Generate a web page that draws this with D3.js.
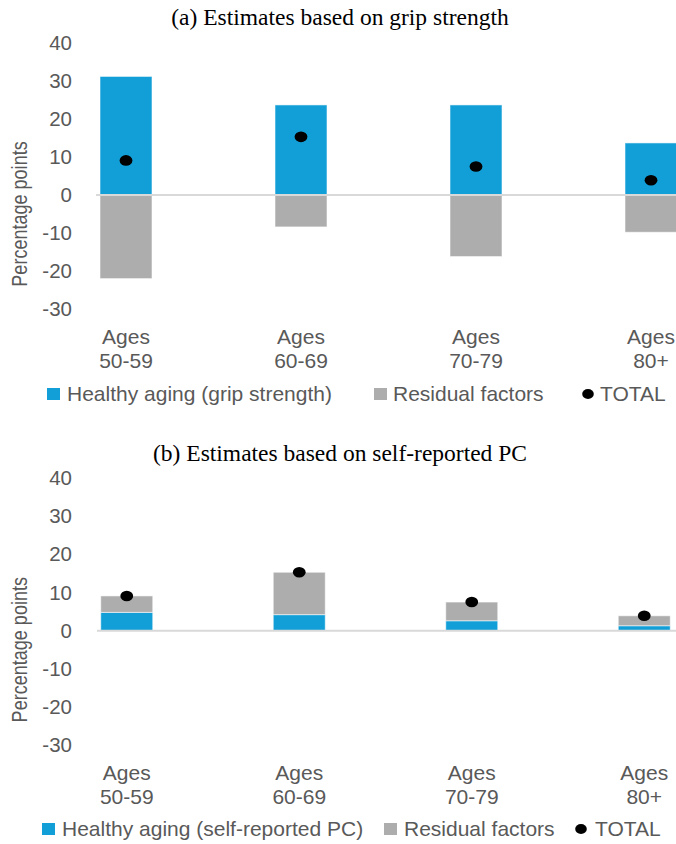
<!DOCTYPE html>
<html>
<head>
<meta charset="utf-8">
<script src="https://cdn.jsdelivr.net/npm/d3@7"></script>
<style>
  html, body { margin: 0; padding: 0; background: #fff; }
  svg { display: block; }
</style>
</head>
<body>
<svg id="chart" width="676" height="844"></svg>
<script>
// Age groups shown on the category axis
const ageGroups = ["Ages\n50-59", "Ages\n60-69", "Ages\n70-79", "Ages\n80+"];

// Panel (a): decomposition using grip strength (percentage points)
const gripHealthy  = [31.2, 23.7, 23.7, 13.7];
const gripResidual = [-22.0, -8.4, -16.2, -9.8];

// Panel (b): decomposition using self-reported physical capacity
const pcHealthy  = [4.8, 4.2, 2.6, 1.3];
const pcResidual = [4.3, 11.1, 4.9, 2.6];

// Overall change, identical in both decompositions
const totals = [9.1, 15.3, 7.5, 3.9];

const yTicks = [-30, -20, -10, 0, 10, 20, 30, 40];

const COLORS = { healthy: "#129fd7", residual: "#adadad", total: "#000000" };
const TEXT = "#595959";

const svg = d3.select("#chart");

function drawPanel(cfg) {
  const g = svg.append("g");

  const x = d3.scaleBand()
    .domain(ageGroups)
    .range([cfg.left, cfg.left + 4 * cfg.step])
    .paddingInner(1 - cfg.barW / cfg.step)
    .paddingOuter((1 - cfg.barW / cfg.step) / 2);

  const y = d3.scaleLinear()
    .domain([-30, 40])
    .range([cfg.yZero + 30 * cfg.unit, cfg.yZero - 40 * cfg.unit]);

  // title
  g.append("text")
    .attr("x", 340).attr("y", cfg.titleY)
    .attr("text-anchor", "middle")
    .attr("font-family", "'Liberation Serif', 'Times New Roman', serif")
    .attr("font-size", 23.5)
    .attr("fill", "#000")
    .text(cfg.title);

  // y axis labels (plain hyphen for negatives)
  const yAxis = d3.axisLeft(y).tickValues(yTicks).tickSize(0).tickPadding(0)
    .tickFormat(d => String(d));
  const ya = g.append("g").attr("transform", "translate(72,0)").call(yAxis);
  ya.select(".domain").remove();
  ya.selectAll("text")
    .attr("font-family", "'Liberation Sans', Arial, sans-serif")
    .attr("font-size", 20.5)
    .attr("fill", TEXT);

  // y axis title (slightly condensed along its length)
  g.append("text")
    .attr("transform", `translate(${cfg.yTitleX},${cfg.yZero + 19}) rotate(-90) scale(0.82,1)`)
    .attr("text-anchor", "middle")
    .attr("dy", "0.35em")
    .attr("font-family", "'Liberation Sans', Arial, sans-serif")
    .attr("font-size", 22)
    .attr("fill", TEXT)
    .text("Percentage points");

  // bars
  const rows = ageGroups.map((c, i) => ({ c, i }));
  const edge = "rgba(255,255,255,0.55)";
  if (cfg.mode === "diverging") {
    g.selectAll(".pos").data(rows).join("rect")
      .attr("x", d => x(d.c)).attr("width", x.bandwidth())
      .attr("y", d => y(cfg.healthy[d.i]))
      .attr("height", d => y(0) - y(cfg.healthy[d.i]))
      .attr("fill", COLORS.healthy)
      .attr("stroke", edge).attr("stroke-width", 1);
    g.selectAll(".neg").data(rows).join("rect")
      .attr("x", d => x(d.c)).attr("width", x.bandwidth())
      .attr("y", y(0))
      .attr("height", d => y(cfg.residual[d.i]) - y(0))
      .attr("fill", COLORS.residual)
      .attr("stroke", edge).attr("stroke-width", 1);
  } else {
    g.selectAll(".base").data(rows).join("rect")
      .attr("x", d => x(d.c)).attr("width", x.bandwidth())
      .attr("y", d => y(cfg.healthy[d.i]))
      .attr("height", d => y(0) - y(cfg.healthy[d.i]))
      .attr("fill", COLORS.healthy)
      .attr("stroke", edge).attr("stroke-width", 1);
    g.selectAll(".top").data(rows).join("rect")
      .attr("x", d => x(d.c)).attr("width", x.bandwidth())
      .attr("y", d => y(cfg.healthy[d.i] + cfg.residual[d.i]))
      .attr("height", d => y(cfg.healthy[d.i]) - y(cfg.healthy[d.i] + cfg.residual[d.i]))
      .attr("fill", COLORS.residual)
      .attr("stroke", edge).attr("stroke-width", 1);
  }

  // zero line
  g.append("line")
    .attr("x1", cfg.zeroX1).attr("x2", 700)
    .attr("y1", y(0)).attr("y2", y(0))
    .attr("stroke", "#d9d9d9").attr("stroke-width", 2);

  // total markers
  g.selectAll(".tot").data(rows).join("ellipse")
    .attr("cx", d => x(d.c) + x.bandwidth() / 2)
    .attr("cy", d => y(totals[d.i]))
    .attr("rx", 6.4).attr("ry", 5.3)
    .attr("fill", COLORS.total);

  // category axis (two-line labels)
  const xAxis = d3.axisBottom(x).tickSize(0).tickFormat("");
  const xa = g.append("g").attr("transform", `translate(0,${cfg.catY})`).call(xAxis);
  xa.select(".domain").remove();
  xa.selectAll(".tick").each(function (d) {
    const t = d3.select(this).append("text")
      .attr("text-anchor", "middle")
      .attr("font-family", "'Liberation Sans', Arial, sans-serif")
      .attr("font-size", 21)
      .attr("fill", TEXT);
    d.split("\n").forEach((line, k) => {
      t.append("tspan").attr("x", 0).attr("y", k * 24).text(line);
    });
  });

  // legend
  const L = cfg.legend;
  const lg = g.append("g")
    .attr("font-family", "'Liberation Sans', Arial, sans-serif")
    .attr("font-size", 21).attr("fill", TEXT);
  lg.append("rect").attr("x", L.sq1).attr("y", L.y - 6).attr("width", 13).attr("height", 12)
    .attr("fill", COLORS.healthy);
  lg.append("text").attr("x", L.t1).attr("y", L.y).attr("dy", "0.35em").text(cfg.healthyLabel);
  lg.append("rect").attr("x", L.sq2).attr("y", L.y - 6).attr("width", 13).attr("height", 12)
    .attr("fill", COLORS.residual);
  lg.append("text").attr("x", L.t2).attr("y", L.y).attr("dy", "0.35em").text("Residual factors");
  lg.append("ellipse").attr("cx", L.dot).attr("cy", L.y).attr("rx", 5.8).attr("ry", 5)
    .attr("fill", COLORS.total);
  lg.append("text").attr("x", L.t3).attr("y", L.y).attr("dy", "0.35em").text("TOTAL");
}

drawPanel({
  title: "(a) Estimates based on grip strength",
  titleY: 25,
  mode: "diverging",
  healthy: gripHealthy, residual: gripResidual,
  healthyLabel: "Healthy aging (grip strength)",
  left: 38.5, step: 175, barW: 52,
  yZero: 195, unit: 3.8,
  yTitleX: 19, zeroX1: 96,
  catY: 344,
  legend: { y: 394, sq1: 47, t1: 67, sq2: 374, t2: 393, dot: 588, t3: 600 }
});

drawPanel({
  title: "(b) Estimates based on self-reported PC",
  titleY: 461,
  mode: "stacked",
  healthy: pcHealthy, residual: pcResidual,
  healthyLabel: "Healthy aging (self-reported PC)",
  left: 40.5, step: 172.5, barW: 52,
  yZero: 630.7, unit: 3.82,
  yTitleX: 19, zeroX1: 97,
  catY: 780,
  legend: { y: 829, sq1: 42, t1: 62, sq2: 384, t2: 404, dot: 581, t3: 595 }
});
</script>
</body>
</html>
